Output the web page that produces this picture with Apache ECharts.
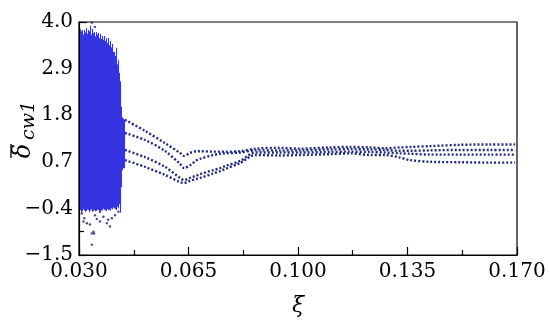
<!DOCTYPE html>
<html><head><meta charset="utf-8">
<script src="https://cdn.jsdelivr.net/npm/echarts@6/dist/echarts.min.js"></script>
<style>html,body{margin:0;padding:0;background:#fff}#c{width:550px;height:325px}</style>
</head><body><div id="c"></div>
<script>
// Axis tick labels
const xTicks = [0.030, 0.065, 0.100, 0.135, 0.170];
const xMinorTicks = [0.0475, 0.0825, 0.1175, 0.1525];
const yTicks = [-1.5, -0.4, 0.7, 1.8, 2.9, 4.0];
const yMinorTicks = [-0.95, 0.15, 1.25, 2.35, 3.45];

// Chaotic region: vertical extent of the dense point clouds at each ξ
const chaosXi = [0.0303,0.0307,0.0310,0.0313,0.0316,0.0319,0.0322,0.0326,0.0329,0.0332,0.0335,0.0338,0.0342,0.0345,0.0348,0.0351,0.0354,0.0358,0.0361,0.0364,0.0367,0.0370,0.0374,0.0377,0.0380,0.0383,0.0386,0.0390,0.0393,0.0396,0.0399,0.0402,0.0405,0.0409,0.0412,0.0415,0.0418,0.0421,0.0425,0.0428,0.0431,0.0434,0.0437,0.0441,0.0444];
const chaosLo = [-0.44,-0.50,-0.47,-0.42,-0.45,-0.48,-0.46,-0.43,-0.44,-0.49,-0.45,-0.42,-0.48,-0.46,-0.44,-0.47,-0.46,-0.43,-0.44,-0.46,-0.47,-0.44,-0.45,-0.41,-0.43,-0.45,-0.46,-0.42,-0.44,-0.43,-0.45,-0.40,-0.42,-0.38,-0.40,-0.42,-0.44,-0.36,-0.40,-0.30,-0.50,0.10,0.50,0.55,0.55];
const chaosHi = [3.83,3.78,3.81,3.70,3.81,3.75,3.86,3.72,3.81,3.78,3.91,3.70,3.84,3.74,3.76,3.66,3.76,3.70,3.74,3.62,3.72,3.60,3.67,3.58,3.67,3.55,3.62,3.50,3.62,3.45,3.55,3.40,3.48,3.30,3.29,3.20,3.39,3.00,3.10,2.80,2.60,2.00,1.75,1.72,1.70];

// Isolated points of the chaotic region
const outXi    = [0.0309,0.0325,0.0335,0.0341,0.0348,0.0341,0.0351,0.0367,0.0378,0.0389,0.0399,0.0415,0.0426,0.0314,0.0367,0.0346,0.0317,0.0357,0.0393,0.0405,0.0341,0.0351];
const outDelta = [-0.52,-0.75,-0.78,-0.99,-0.99,-1.26,-0.56,-0.48,-0.60,-0.75,-0.83,-0.56,-0.48,-0.71,-0.71,-0.95,-0.63,-0.65,-0.67,-0.63,3.98,3.88];

// Periodic branches
const branchXi = [0.0447,0.0511,0.0575,0.0623,0.0636,0.0655,0.0677,0.0687,0.0728,0.0751,0.0767,0.0815,0.0863,0.0942,0.1006,0.1102,0.1166,0.1230,0.1278,0.1326,0.1358,0.1422,0.1518,0.1614,0.1694];
const branch1 = [1.69,1.43,1.14,0.91,0.84,0.91,0.95,0.95,0.94,0.94,0.94,0.95,1.01,1.03,1.01,1.04,1.05,1.04,1.02,1.04,1.05,1.07,1.10,1.11,1.11];
const branch2 = [1.38,1.215,0.955,0.65,0.55,0.62,0.74,0.77,0.86,0.89,0.90,0.92,0.97,0.97,0.97,0.99,1.00,0.99,0.98,0.96,0.96,0.97,0.98,0.98,0.98];
const branch3 = [0.98,0.81,0.58,0.32,0.27,0.32,0.38,0.41,0.50,0.55,0.60,0.72,0.92,0.92,0.92,0.93,0.94,0.93,0.92,0.90,0.89,0.87,0.87,0.87,0.87];
const branch4 = [0.74,0.58,0.39,0.22,0.20,0.25,0.30,0.32,0.42,0.48,0.53,0.67,0.86,0.85,0.86,0.88,0.90,0.86,0.86,0.80,0.74,0.70,0.69,0.68,0.68];

const FONT = 'DejaVu Serif';
const chart = echarts.init(document.getElementById('c'), null, {renderer: 'canvas'});

const chaosData = chaosXi.map((x, i) => [x, chaosLo[i], chaosHi[i]]);
const outData = outXi.map((x, i) => [x, outDelta[i]]);
const branches = [branch1, branch2, branch3, branch4];

const series = [
  {
    type: 'custom', xAxisIndex: 0, yAxisIndex: 0,
    data: chaosData,
    encode: {x: 0, y: [1, 2]},
    renderItem: function (params, api) {
      const p1 = api.coord([api.value(0), api.value(1)]);
      const p2 = api.coord([api.value(0), api.value(2)]);
      const xs = Math.round(p1[0]) + 0.5;
      return {type: 'line', shape: {x1: xs, y1: p1[1], x2: xs, y2: p2[1]},
        style: {stroke: '#3434e0', lineWidth: 1}};
    }
  },
  {
    type: 'scatter', xAxisIndex: 0, yAxisIndex: 0,
    data: outData, symbolSize: 2.5, itemStyle: {color: '#1f2a80'}
  }
];
branches.forEach(b => {
  series.push({
    type: 'line', xAxisIndex: 0, yAxisIndex: 0,
    data: branchXi.map((x, i) => [x, b[i]]),
    smooth: 0.3, showSymbol: false,
    lineStyle: {color: '#1f2a80', width: 2.4, type: [2, 2], cap: 'butt'}
  });
});

chart.setOption({
  animation: false,
  backgroundColor: '#fff',
  grid: {left: 79, right: 33, top: 22, bottom: 70, show: true, borderColor: '#000', borderWidth: 1.2, backgroundColor: 'transparent'},
  graphic: [{
    type: 'group', x: 24, y: 128, rotation: Math.PI / 2,
    children: [
      {type: 'text', x: -23, y: 0, style: {text: 'δ', font: 'italic 24px "DejaVu Serif"', fill: '#000', align: 'center', verticalAlign: 'middle'}},
      {type: 'line', shape: {x1: -30, y1: -13, x2: -16, y2: -13}, style: {stroke: '#000', lineWidth: 1.3}},
      {type: 'text', x: -12, y: 5, style: {text: 'cw1', font: 'italic 19px "DejaVu Serif"', fill: '#000', align: 'left', verticalAlign: 'middle'}}
    ]
  }],
  xAxis: [
    {
      type: 'value', min: 0.030, max: 0.170, position: 'bottom',
      name: 'ξ', nameLocation: 'middle', nameGap: 40,
      nameTextStyle: {fontFamily: FONT, fontStyle: 'italic', fontSize: 22, color: '#000'},
      axisLine: {show: true, onZero: false, lineStyle: {color: '#000', width: 1.2}},
      axisTick: {show: true, inside: true, length: 8, customValues: xTicks, lineStyle: {color: '#000', width: 1.2}},
      axisLabel: {show: true, customValues: xTicks, margin: 7, fontFamily: FONT, fontSize: 20, color: '#000',
        formatter: v => v.toFixed(3)},
      splitLine: {show: false}
    },
    {
      type: 'value', min: 0.030, max: 0.170, position: 'bottom',
      axisLine: {show: false, onZero: false},
      axisTick: {show: true, inside: true, length: 5, customValues: xMinorTicks, lineStyle: {color: '#000', width: 1.2}},
      axisLabel: {show: false}, splitLine: {show: false}
    }
  ],
  yAxis: [
    {
      type: 'value', min: -1.5, max: 4.0, position: 'left',
      axisLine: {show: true, onZero: false, lineStyle: {color: '#000', width: 1.2}},
      axisTick: {show: true, inside: true, length: 8, customValues: yTicks, lineStyle: {color: '#000', width: 1.2}},
      axisLabel: {show: true, customValues: yTicks, margin: 6, fontFamily: FONT, fontSize: 20, color: '#000',
        formatter: v => (v < 0 ? '\u2212' + Math.abs(v).toFixed(1) : v.toFixed(1))},
      splitLine: {show: false}
    },
    {
      type: 'value', min: -1.5, max: 4.0, position: 'left',
      axisLine: {show: false, onZero: false},
      axisTick: {show: true, inside: true, length: 5, customValues: yMinorTicks, lineStyle: {color: '#000', width: 1.2}},
      axisLabel: {show: false}, splitLine: {show: false}
    }
  ],
  series: series
});
</script></body></html>
